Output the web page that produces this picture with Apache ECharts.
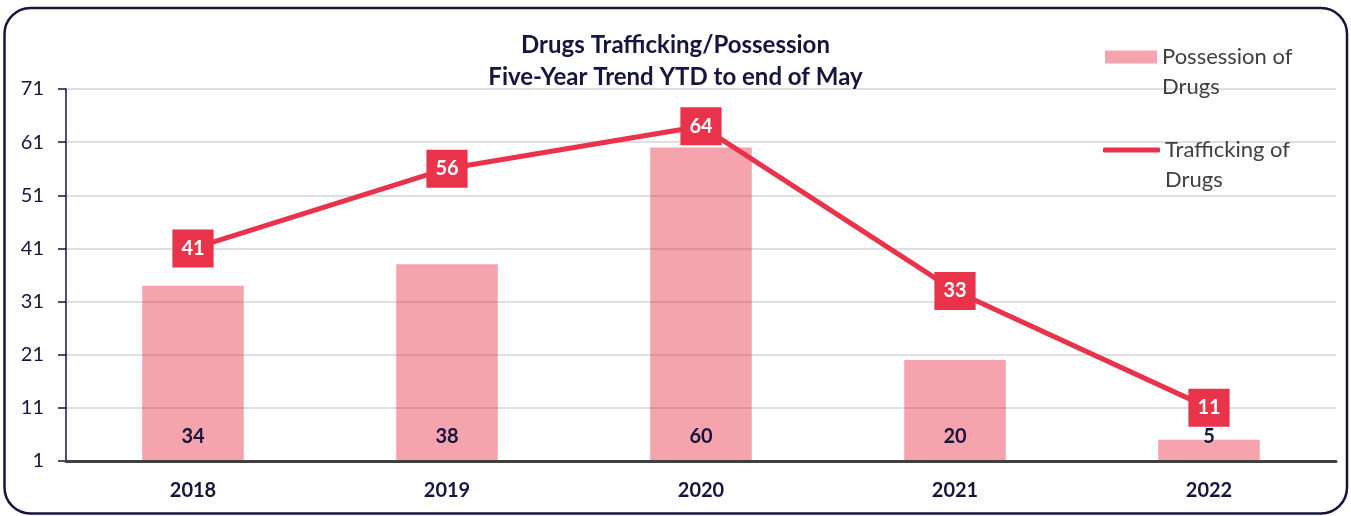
<!DOCTYPE html>
<html>
<head>
<meta charset="utf-8">
<script src="https://cdn.jsdelivr.net/npm/echarts@6/dist/echarts.min.js"></script>
<style>
html,body{margin:0;padding:0;background:#fff;}
#chart{width:1351px;height:516px;}
</style>
</head>
<body>
<div id="chart"></div>
<script>
const categories = ['2018', '2019', '2020', '2021', '2022'];
const possession = [34, 38, 60, 20, 5];
const trafficking = [41, 56, 64, 33, 11];
const yTicks = [1, 11, 21, 31, 41, 51, 61, 71];
const titleText = 'Drugs Trafficking/Possession\nFive-Year Trend YTD to end of May';
const nameBar = 'Possession of Drugs';
const nameLine = 'Trafficking of Drugs';
const legendBarText = 'Possession of\nDrugs';
const legendLineText = 'Trafficking of\nDrugs';

const NAVY = '#15153f';
const RED = '#e8334a';
const FONT = 'Lato';

const chart = echarts.init(document.getElementById('chart'));
const legendText = {
  fontFamily: FONT, fontSize: 22, color: '#404040', lineHeight: 30
};
chart.setOption({
  animation: false,
  textStyle: { fontFamily: FONT },
  graphic: [{
    type: 'rect', z: -1, silent: true,
    shape: { x: 4.5, y: 8, width: 1342.5, height: 505.5, r: 26 },
    style: { fill: 'none', stroke: NAVY, lineWidth: 2.5 }
  }],
  title: {
    text: titleText, left: 'center', top: 29, padding: 0,
    textStyle: { fontFamily: FONT, fontSize: 24, fontWeight: 'bold', color: NAVY, lineHeight: 32 }
  },
  legend: [{
    data: [{ name: nameBar, icon: 'rect' }],
    left: 1105, top: 12, padding: 0, itemWidth: 52, itemHeight: 13, itemGap: 4,
    formatter: () => '\u00a0\n' + legendBarText,
    textStyle: legendText
  }, {
    data: [{ name: nameLine, icon: 'roundRect' }],
    left: 1103, top: 105, padding: 0, itemWidth: 57, itemHeight: 5, itemGap: 4,
    formatter: () => '\u00a0\n' + legendLineText,
    textStyle: legendText
  }],
  grid: { left: 66, right: 15, top: 89, bottom: 55, containLabel: false },
  xAxis: {
    type: 'category', data: categories, boundaryGap: true,
    axisLine: { lineStyle: { color: '#404040', width: 3 } },
    axisTick: { alignWithLabel: true, length: 6, lineStyle: { color: '#404040', width: 3 } },
    axisLabel: { margin: 20, fontFamily: FONT, fontSize: 20, fontWeight: 'bold', color: NAVY },
    z: 5
  },
  yAxis: {
    type: 'value', min: 1, max: 71,
    axisLine: { show: true, lineStyle: { color: NAVY, width: 1.5 } },
    axisTick: { show: true, length: 8, customValues: yTicks, lineStyle: { color: NAVY, width: 1.5 } },
    axisLabel: { customValues: yTicks, margin: 22, fontFamily: FONT, fontSize: 20, color: NAVY },
    splitLine: { show: true, lineStyle: { color: '#d4d4d4', width: 1.5 } }
  },
  series: [{
    name: nameBar, type: 'bar', data: possession, barWidth: '40%',
    itemStyle: { color: 'rgba(232,51,74,0.45)' },
    label: {
      show: true, position: 'insideBottom', distance: 14,
      fontFamily: FONT, fontSize: 20, fontWeight: 'bold', color: NAVY
    }
  }, {
    name: nameLine, type: 'line', data: trafficking,
    symbol: 'rect', symbolSize: 4,
    itemStyle: { color: RED },
    lineStyle: { color: RED, width: 5 },
    label: {
      show: true, position: 'inside',
      fontFamily: FONT, fontSize: 20, fontWeight: 'bold', color: '#fff',
      backgroundColor: RED, padding: [9, 9, 9, 9], lineHeight: 20
    },
    z: 10
  }]
});
</script>
</body>
</html>
